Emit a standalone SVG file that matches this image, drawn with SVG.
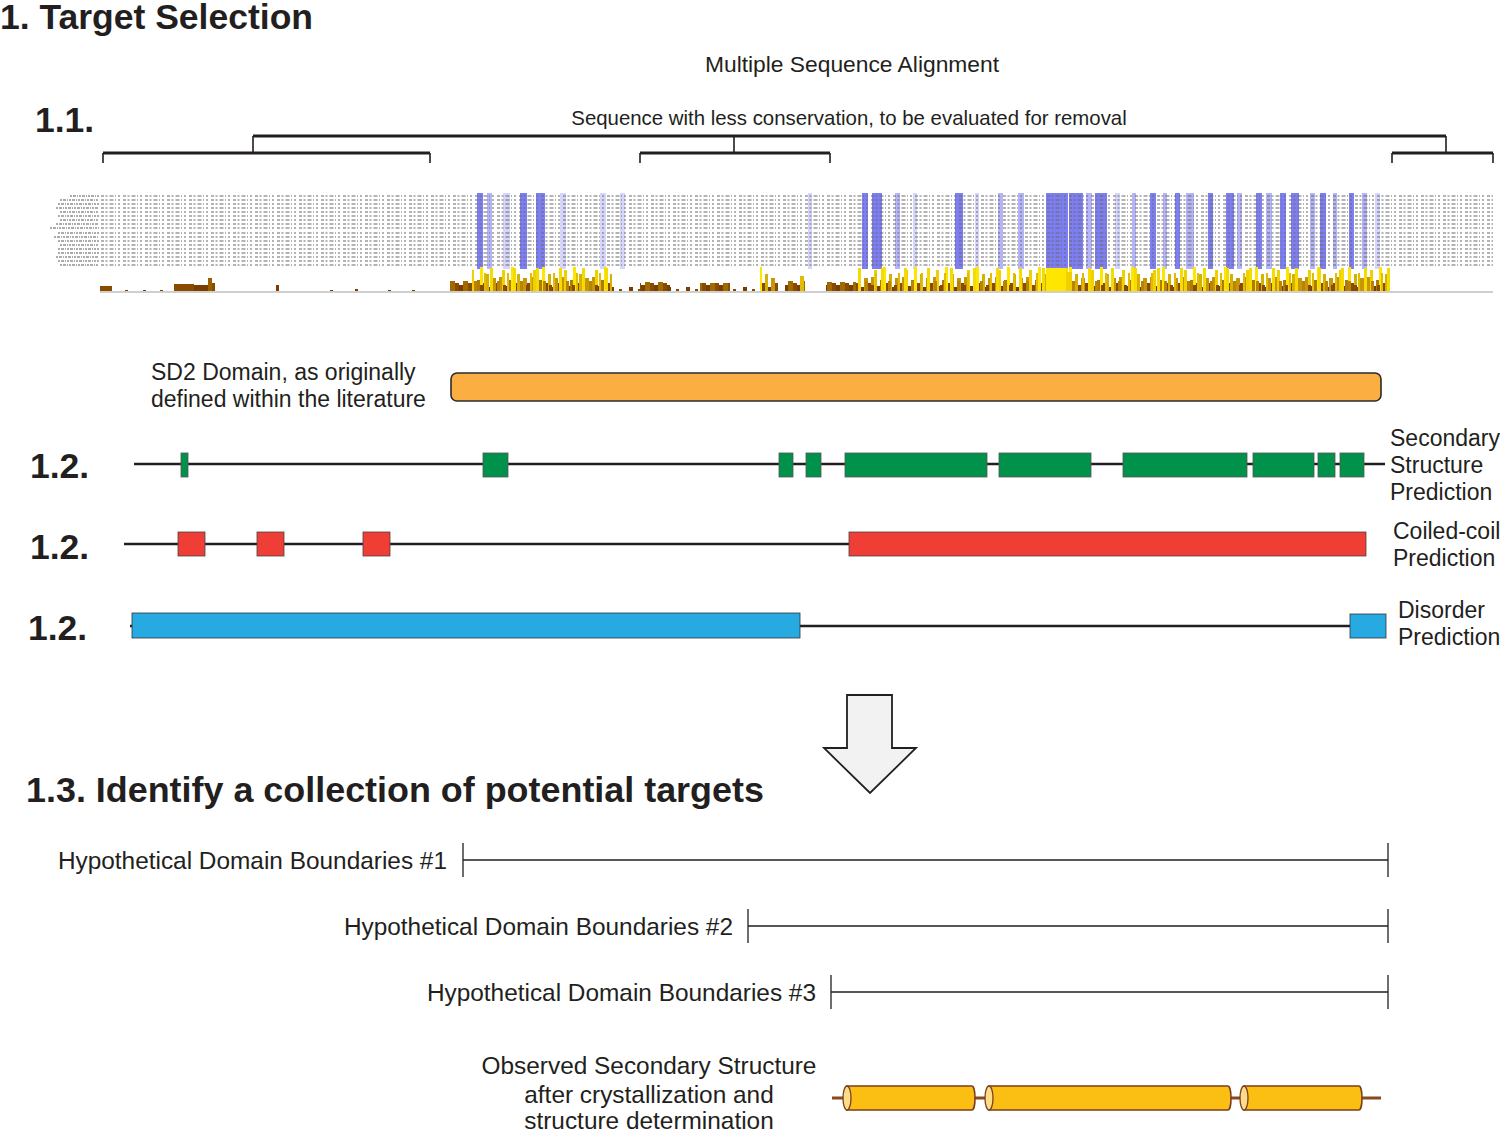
<svg xmlns="http://www.w3.org/2000/svg" width="1500" height="1134" viewBox="0 0 1500 1134">
<style>
text{font-family:"Liberation Sans",Arial,sans-serif;fill:#231f20}
.h{font-weight:bold;font-size:35.5px}
.l{font-size:23px}
.b{font-size:24.4px}
.s{font-size:20.4px}
.br{stroke:#231f20;fill:none}
.trk{stroke:#231f20;stroke-width:2.5}
.g{fill:#00924a;stroke:#555;stroke-width:0.8}
.r{fill:#ef3e36;stroke:#444;stroke-width:0.8}
.bl{fill:#27a9e1;stroke:#333;stroke-width:0.8}
.row{stroke:#6a6a6a;stroke-width:2;stroke-dasharray:3 1.5 2 2 4 1.5 1 2 2 3;opacity:.5}
.nm{stroke:#6a6a6a;stroke-width:2;stroke-dasharray:2 1 3 1 1 1;opacity:.55}
.bd{fill:#5e5ef0;opacity:.8}
.bm{fill:#8c8cf2;opacity:.65}
.bf{fill:#b4b4f5;opacity:.55}
.hyp{stroke:#231f20;stroke-width:1.3}
.cyl{fill:#fbbf14;stroke:#7b3f1c;stroke-width:1.6}
.cap{fill:#fddc8a;stroke:#7b3f1c;stroke-width:1.3}
</style>
<defs>
<pattern id="h1" patternUnits="userSpaceOnUse" x="0" y="266" width="31" height="26">
<rect x="0" y="17" width="3" height="9" fill="#8a4b00"/>
<rect x="3" y="11" width="3" height="15" fill="#c8960a"/>
<rect x="6" y="4" width="3" height="22" fill="#f0d000"/>
<rect x="9" y="20" width="3" height="6" fill="#7a3f00"/>
<rect x="12" y="14" width="3" height="12" fill="#b07a05"/>
<rect x="15" y="1" width="3" height="25" fill="#ffe600"/>
<rect x="18" y="17" width="3" height="9" fill="#8a4b00"/>
<rect x="21" y="8" width="3" height="18" fill="#d8b000"/>
<rect x="24" y="21" width="3" height="5" fill="#7a3f00"/>
<rect x="27" y="12" width="4" height="14" fill="#c8960a"/>
</pattern>
<pattern id="h2" patternUnits="userSpaceOnUse" x="5" y="266" width="23" height="26">
<rect x="2" y="2" width="3" height="24" fill="#f5dc00"/>
<rect x="9" y="15" width="3" height="11" fill="#b98500"/>
<rect x="15" y="19" width="3" height="7" fill="#8a4b00"/>
<rect x="19" y="7" width="2" height="19" fill="#e0bd00"/>
</pattern>
<pattern id="h3" patternUnits="userSpaceOnUse" x="0" y="266" width="19" height="26">
<rect x="2" y="21" width="4" height="5" fill="#7a3f00"/>
<rect x="11" y="23" width="3" height="3" fill="#8a4b00"/>
</pattern>
<pattern id="h4" patternUnits="userSpaceOnUse" x="0" y="266" width="13" height="26">
<rect x="0" y="17" width="4" height="9" fill="#8a4b00"/>
<rect x="4" y="19" width="4" height="7" fill="#7a3f00"/>
<rect x="8" y="15" width="5" height="11" fill="#a06a00"/>
</pattern>
</defs>
<rect width="1500" height="1134" fill="#fff"/>

<g id="titles">
<text class="h" x="0" y="29">1. Target Selection</text>
<text class="h" x="35" y="132">1.1.</text>
<text class="h" x="30" y="478">1.2.</text>
<text class="h" x="30" y="559">1.2.</text>
<text class="h" x="28" y="640">1.2.</text>
<text class="h" x="26" y="802" style="font-size:35.9px">1.3. Identify a collection of potential targets</text>
</g>

<g id="msa-title"><text class="l" x="852" y="72" text-anchor="middle" style="font-size:22.8px">Multiple Sequence Alignment</text></g>
<g id="bracket-label"><text class="s" x="849" y="125" text-anchor="middle">Sequence with less conservation, to be evaluated for removal</text></g>

<g id="brackets">
<path class="br" stroke-width="3" d="M253 136H1446M103 153H430M640 153H830M1392 153H1493"/>
<path class="br" stroke-width="1.6" d="M253 136V153M734 136V153M1446 136V153M103 153V163M430 153V163M640 153V163M830 153V163M1392 153V163M1493 153V163"/>
</g>

<g id="msa">
<g id="blue">
<rect class="bd" x="477" y="193" width="6" height="76"/>
<rect class="bm" x="487" y="193" width="5" height="76"/>
<rect class="bf" x="503" y="193" width="7" height="76"/>
<rect class="bd" x="520" y="193" width="7" height="76"/>
<rect class="bd" x="536" y="193" width="9" height="76"/>
<rect class="bf" x="560" y="193" width="6" height="76"/>
<rect class="bf" x="600" y="193" width="6" height="76"/>
<rect class="bf" x="620" y="193" width="5" height="76"/>
<rect class="bf" x="808" y="193" width="4" height="76"/>
<rect class="bd" x="862" y="193" width="6" height="76"/>
<rect class="bd" x="872" y="193" width="10" height="76"/>
<rect class="bm" x="895" y="193" width="5" height="76"/>
<rect class="bf" x="913" y="193" width="4" height="76"/>
<rect class="bd" x="955" y="193" width="8" height="76"/>
<rect class="bf" x="975" y="193" width="4" height="76"/>
<rect class="bm" x="998" y="193" width="5" height="76"/>
<rect class="bm" x="1018" y="193" width="6" height="76"/>
<rect class="bd" x="1046" y="193" width="22" height="76"/>
<rect class="bd" x="1069" y="193" width="14" height="76"/>
<rect class="bm" x="1086" y="193" width="6" height="76"/>
<rect class="bd" x="1095" y="193" width="12" height="76"/>
<rect class="bf" x="1115" y="193" width="5" height="76"/>
<rect class="bm" x="1132" y="193" width="4" height="76"/>
<rect class="bd" x="1150" y="193" width="6" height="76"/>
<rect class="bm" x="1163" y="193" width="4" height="76"/>
<rect class="bd" x="1175" y="193" width="5" height="76"/>
<rect class="bm" x="1186" y="193" width="8" height="76"/>
<rect class="bd" x="1208" y="193" width="5" height="76"/>
<rect class="bd" x="1226" y="193" width="8" height="76"/>
<rect class="bm" x="1237" y="193" width="5" height="76"/>
<rect class="bd" x="1256" y="193" width="6" height="76"/>
<rect class="bm" x="1266" y="193" width="6" height="76"/>
<rect class="bd" x="1280" y="193" width="6" height="76"/>
<rect class="bd" x="1291" y="193" width="8" height="76"/>
<rect class="bm" x="1310" y="193" width="5" height="76"/>
<rect class="bd" x="1320" y="193" width="6" height="76"/>
<rect class="bm" x="1333" y="193" width="4" height="76"/>
<rect class="bd" x="1349" y="193" width="5" height="76"/>
<rect class="bm" x="1362" y="193" width="5" height="76"/>
<rect class="bf" x="1375" y="193" width="5" height="76"/>
</g>
<g id="rows">
<path class="nm" d="M70 196H99M60 200H99M58 204H99M56 208H99M60 212H99M58 216H99M60 220H99M56 224H99M50 228H99M58 233H99M54 237H99M58 241H99M60 245H99M58 249H99M58 253H99M56 257H99M58 261H99M60 265H99"/>
<path class="row" d="M101 196H1493M101 200H1493M101 204H1493M101 208H1493M101 212H1493M101 216H1493M101 220H1493M101 224H1493M101 228H1493M101 233H1493M101 237H1493M101 241H1493M101 245H1493M101 249H1493M101 253H1493M101 257H1493M101 261H1493M101 265H1493"/>
</g>
<g id="hist">
<rect x="100" y="286" width="12" height="6" fill="#8a4b00"/>
<rect x="125" y="290" width="3" height="2" fill="#7a3f00"/>
<rect x="143" y="290" width="3" height="2" fill="#7a3f00"/>
<rect x="160" y="290" width="3" height="2" fill="#7a3f00"/>
<rect x="174" y="284" width="20" height="8" fill="#8a4b00"/>
<rect x="194" y="285" width="14" height="7" fill="#7a3f00"/>
<rect x="208" y="278" width="4" height="14" fill="#9a6000"/>
<rect x="212" y="283" width="3" height="9" fill="#8a4b00"/>
<rect x="276" y="285" width="3" height="7" fill="#7a3f00"/>
<rect x="330" y="290" width="3" height="2" fill="#7a3f00"/>
<rect x="355" y="289" width="3" height="3" fill="#7a3f00"/>
<rect x="388" y="290" width="3" height="2" fill="#7a3f00"/>
<rect x="412" y="290" width="3" height="2" fill="#7a3f00"/>
<rect x="450" y="266" width="22" height="26" fill="url(#h4)"/>
<rect x="472" y="266" width="140" height="26" fill="url(#h1)"/>
<rect x="472" y="266" width="140" height="26" fill="url(#h2)"/>
<rect x="612" y="266" width="150" height="26" fill="url(#h3)"/>
<rect x="640" y="282" width="30" height="10" fill="url(#h4)"/>
<rect x="700" y="283" width="30" height="9" fill="url(#h4)"/>
<rect x="760" y="266" width="18" height="26" fill="url(#h1)"/>
<rect x="785" y="280" width="20" height="12" fill="url(#h4)"/>
<rect x="800" y="276" width="4" height="16" fill="#e0bd00"/>
<rect x="826" y="282" width="30" height="10" fill="url(#h4)"/>
<rect x="856" y="266" width="534" height="26" fill="url(#h1)"/>
<rect x="856" y="266" width="534" height="26" fill="url(#h2)"/>
<rect x="1046" y="268" width="20" height="24" fill="#ffe600"/>
<rect x="1066" y="272" width="6" height="20" fill="#f0d000"/>
<path d="M100 292H1493" stroke="#cfcfcf" stroke-width="2"/>
</g>
</g>

<g id="sd2-label">
<text class="l" x="151" y="380">SD2 Domain, as originally</text>
<text class="l" x="151" y="407">defined within the literature</text>
</g>
<g id="sd2-bar"><rect x="451" y="373" width="930" height="28" rx="6" fill="#fbaf42" stroke="#2b2b2b" stroke-width="1.6"/></g>

<g id="connectors">
<path class="trk" d="M134 464H1385"/>
<path class="trk" d="M124 544H1366"/>
<path class="trk" d="M130 626H1350"/>
</g>

<g id="secondary">
<rect class="g" x="181" y="453" width="7" height="24"/>
<rect class="g" x="483" y="453" width="25" height="24"/>
<rect class="g" x="779" y="453" width="14" height="24"/>
<rect class="g" x="806" y="453" width="15" height="24"/>
<rect class="g" x="845" y="453" width="142" height="24"/>
<rect class="g" x="999" y="453" width="92" height="24"/>
<rect class="g" x="1123" y="453" width="124" height="24"/>
<rect class="g" x="1253" y="453" width="61" height="24"/>
<rect class="g" x="1318" y="453" width="17" height="24"/>
<rect class="g" x="1340" y="453" width="24" height="24"/>
<text class="l" x="1390" y="446">Secondary</text>
<text class="l" x="1390" y="473">Structure</text>
<text class="l" x="1390" y="500">Prediction</text>
</g>

<g id="coiled">
<rect class="r" x="178" y="532" width="27" height="24"/>
<rect class="r" x="257" y="532" width="27" height="24"/>
<rect class="r" x="363" y="532" width="27" height="24"/>
<rect class="r" x="849" y="532" width="517" height="24"/>
<text class="l" x="1393" y="539">Coiled-coil</text>
<text class="l" x="1393" y="566">Prediction</text>
</g>

<g id="disorder">
<rect class="bl" x="132" y="613" width="668" height="25"/>
<rect class="bl" x="1350" y="614" width="36" height="24"/>
<text class="l" x="1398" y="618">Disorder</text>
<text class="l" x="1398" y="645">Prediction</text>
</g>

<g id="arrow"><path d="M847 695H892V748H916L870 793L824 748H847Z" fill="#f2f2f2" stroke="#231f20" stroke-width="1.8" stroke-linejoin="miter"/></g>

<g id="hyp1">
<text class="b" x="447" y="869" text-anchor="end">Hypothetical Domain Boundaries #1</text>
<path class="hyp" d="M463 860H1388M463 843V877M1388 843V877"/>
</g>
<g id="hyp2">
<text class="b" x="733" y="935" text-anchor="end">Hypothetical Domain Boundaries #2</text>
<path class="hyp" d="M748 926H1388M748 909V943M1388 909V943"/>
</g>
<g id="hyp3">
<text class="b" x="816" y="1001" text-anchor="end">Hypothetical Domain Boundaries #3</text>
<path class="hyp" d="M831 992H1388M831 975V1009M1388 975V1009"/>
</g>

<g id="observed">
<text class="b" x="649" y="1074" text-anchor="middle">Observed Secondary Structure</text>
<text class="b" x="649" y="1103" text-anchor="middle">after crystallization and</text>
<text class="b" x="649" y="1129" text-anchor="middle">structure determination</text>
<path d="M832 1098H1381" stroke="#8a4a1e" stroke-width="3"/>
<path class="cyl" d="M847 1086H972A3 12 0 0 1 972 1110H847Z"/>
<ellipse class="cap" cx="847" cy="1098" rx="4" ry="12"/>
<path class="cyl" d="M989 1086H1228A3 12 0 0 1 1228 1110H989Z"/>
<ellipse class="cap" cx="989" cy="1098" rx="4" ry="12"/>
<path class="cyl" d="M1244 1086H1359A3 12 0 0 1 1359 1110H1244Z"/>
<ellipse class="cap" cx="1244" cy="1098" rx="4" ry="12"/>
</g>
</svg>
